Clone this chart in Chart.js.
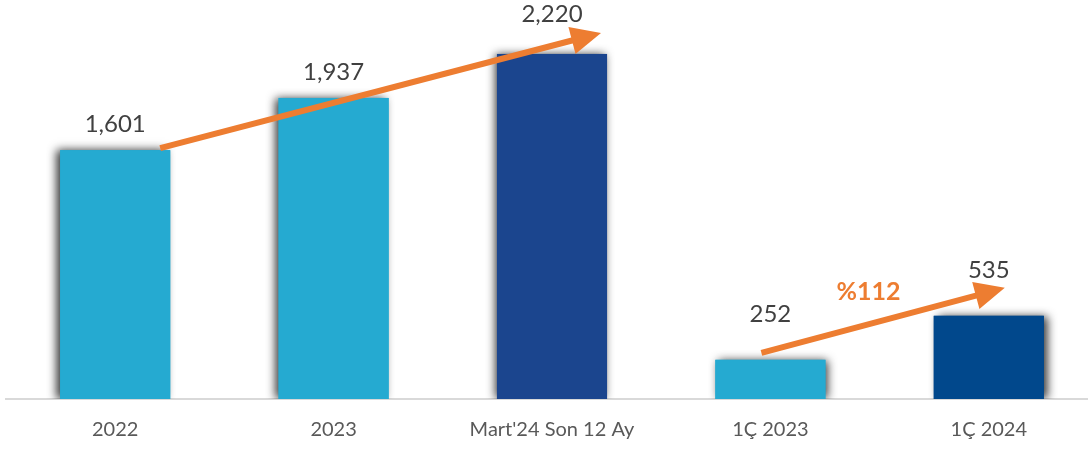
<!DOCTYPE html>
<html>
<head>
<meta charset="utf-8">
<script src="https://cdn.jsdelivr.net/npm/chart.js@4.4.1/dist/chart.umd.min.js"></script>
<style>
  html, body { margin: 0; padding: 0; overflow: hidden; background: #fff; }
  #wrap { width: 1098px; height: 449px; position: relative; }
</style>
</head>
<body>
<div id="wrap"><canvas id="chart"></canvas></div>
<script>
const categories = ["2022", "2023", "Mart'24 Son 12 Ay", "1Ç 2023", "1Ç 2024"];
const values = [1601, 1937, 2220, 252, 535];
const barColors = ["#25AAD1", "#25AAD1", "#1B458E", "#25AAD1", "#01488C"];
const growthLabel = "%112";

const ORANGE = "#ED7D31";

// soft shadow behind each bar, drawn before the bars themselves
const barShadow = {
  id: "barShadow",
  beforeDatasetsDraw(chart, args, opts) {
    const { ctx, chartArea } = chart;
    const meta = chart.getDatasetMeta(0);
    ctx.save();
    ctx.beginPath();
    ctx.rect(0, 0, chart.width, chartArea.bottom);
    ctx.clip();
    meta.data.forEach((bar, i) => {
      const w = bar.width;
      ctx.shadowColor = "rgba(0,0,0,0.8)";
      ctx.shadowBlur = 9;
      ctx.shadowOffsetX = opts.dx[i];
      ctx.shadowOffsetY = 0;
      ctx.fillStyle = barColors[i];
      ctx.fillRect(bar.x - w / 2, bar.y, w, bar.base - bar.y);
    });
    ctx.restore();
  }
};

// value labels above the bars
const valueLabels = {
  id: "valueLabels",
  afterDatasetsDraw(chart, args, opts) {
    const { ctx } = chart;
    const meta = chart.getDatasetMeta(0);
    ctx.save();
    ctx.font = "24px Lato";
    ctx.fillStyle = "#404040";
    ctx.textAlign = "center";
    ctx.textBaseline = "middle";
    meta.data.forEach((bar, i) => {
      ctx.fillText(values[i].toLocaleString("en-US"), bar.x, bar.y - opts.gap[i]);
    });
    ctx.restore();
  }
};

function drawArrow(ctx, x1, y1, x2, y2) {
  const ang = Math.atan2(y2 - y1, x2 - x1);
  const headLen = 30, headHalf = 14;
  const bx = x2 - headLen * Math.cos(ang);
  const by = y2 - headLen * Math.sin(ang);
  ctx.beginPath();
  ctx.moveTo(x1, y1);
  ctx.lineTo(bx + 2 * Math.cos(ang), by + 2 * Math.sin(ang));
  ctx.stroke();
  ctx.beginPath();
  ctx.moveTo(x2, y2);
  ctx.lineTo(bx + headHalf * Math.sin(ang), by - headHalf * Math.cos(ang));
  ctx.lineTo(bx - headHalf * Math.sin(ang), by + headHalf * Math.cos(ang));
  ctx.closePath();
  ctx.fill();
}

// growth arrows and the percentage note
const trendArrows = {
  id: "trendArrows",
  afterDatasetsDraw(chart, args, opts) {
    const { ctx } = chart;
    const bars = chart.getDatasetMeta(0).data;
    ctx.save();
    ctx.strokeStyle = ORANGE;
    ctx.fillStyle = ORANGE;
    ctx.lineWidth = 6;
    opts.arrows.forEach(a => {
      const b1 = bars[a.from], b2 = bars[a.to];
      drawArrow(ctx,
        b1.x + a.fx, b1.y + a.fy,
        b2.x + a.tx, b2.y + a.ty);
    });
    const p = bars[3], q = bars[4];
    ctx.font = "bold 25px Lato";
    ctx.textAlign = "center";
    ctx.textBaseline = "middle";
    ctx.fillText(growthLabel, (p.x + q.x) / 2 - 11, q.y - 24);
    ctx.restore();
  }
};

new Chart(document.getElementById("chart"), {
  type: "bar",
  data: {
    labels: categories,
    datasets: [{
      data: values,
      backgroundColor: barColors,
      borderWidth: 0,
      categoryPercentage: 0.504,
      barPercentage: 1
    }]
  },
  options: {
    responsive: true,
    maintainAspectRatio: false,
    animation: false,
    layout: { padding: { left: 6, right: 0, top: 0, bottom: 0 } },
    plugins: {
      legend: { display: false },
      tooltip: { enabled: false },
      barShadow: { dx: [-4, -4, -2, 3, 4] },
      valueLabels: { gap: [26, 26, 40, 46, 46] },
      trendArrows: {
        arrows: [
          { from: 0, to: 2, fx: 45, fy: -2, tx: 49, ty: -21 },
          { from: 3, to: 4, fx: -9, fy: -7, tx: 16, ty: -28 }
        ]
      }
    },
    scales: {
      x: {
        grid: { display: false, drawTicks: false },
        border: { display: true, color: "#D9D9D9", width: 2 },
        ticks: {
          color: "#595959",
          font: { family: "Lato", size: 20 },
          padding: 19
        },
        afterFit(scale) { scale.height = 50; }
      },
      y: {
        display: false,
        min: 0,
        max: 2567
      }
    }
  },
  plugins: [barShadow, valueLabels, trendArrows]
});
</script>
</body>
</html>
